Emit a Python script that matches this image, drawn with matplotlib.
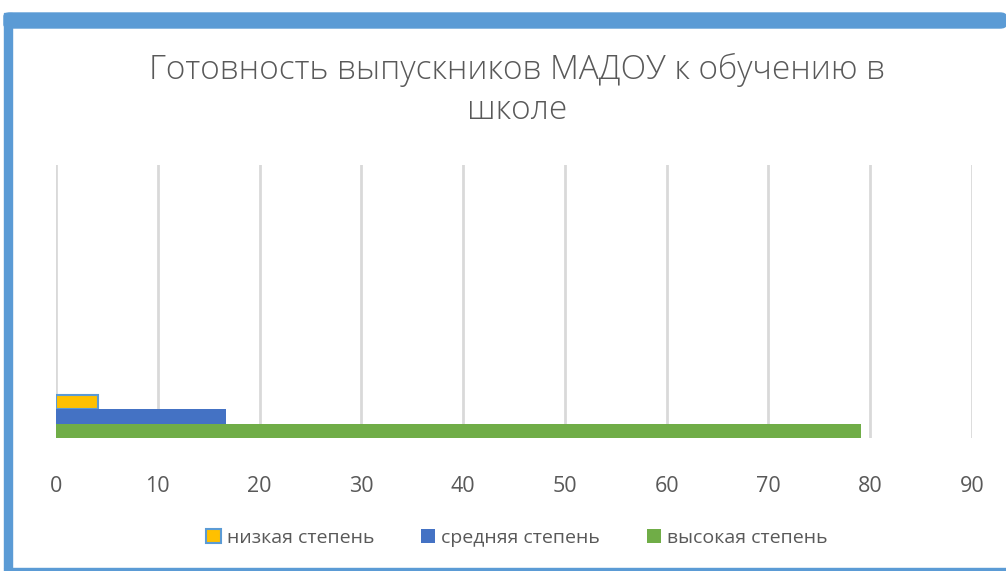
import matplotlib
matplotlib.use("Agg")
import matplotlib.pyplot as plt
from matplotlib.patches import Rectangle, FancyBboxPatch

series = ["низкая степень", "средняя степень", "высокая степень"]
values = [4.1, 16.7, 79.1]
colors = ["#FFC000", "#4472C4", "#70AD47"]
edges = ["#5B9BD5", "#4472C4", "#70AD47"]
positions = [2, 1, 0]
title = "Готовность выпускников МАДОУ к обучению в\nшколе"
xticks = [0, 10, 20, 30, 40, 50, 60, 70, 80, 90]

plt.rcParams['font.family'] = ['Open Sans', 'DejaVu Sans']
W, H = 1006, 571
fig = plt.figure(figsize=(W / 100, H / 100), dpi=100)

# frame
fig.patches.append(Rectangle((4 / W, 1 - 568 / H), 8 / W, (568 - 13) / H,
                             transform=fig.transFigure, color="#5B9BD5", zorder=0))
fig.patches.append(FancyBboxPatch((4 / W, 1 - 28 / H), (W - 4) / W, 15 / H,
                                  boxstyle="round,pad=0,rounding_size=0.006",
                                  transform=fig.transFigure, color="#5B9BD5", zorder=0))
fig.patches.append(Rectangle((4 / W, 0), (W - 4) / W, 3 / H,
                             transform=fig.transFigure, color="#5B9BD5", zorder=0))

ax = fig.add_axes([56 / W, 1 - 438 / H, (972 - 56) / W, (438 - 165) / H])
for v, c, e, p, s in zip(values, colors, edges, positions, series):
    ax.barh(p, v, height=1.0, color=c, edgecolor=e, linewidth=1.5 if e != c else 0,
            label=s, zorder=3)
ax.set_xlim(0, 90)
ax.set_ylim(-0.5, -0.5 + 273 / 14.5)
ax.set_xticks(xticks)
ax.set_yticks([])
ax.grid(axis='x', color="#D9D9D9", linewidth=2)
ax.set_axisbelow(True)
for sp in ax.spines.values():
    sp.set_visible(False)
ax.tick_params(axis='x', length=0, pad=27, labelsize=15.5, labelcolor="#595959")

fig.text(517 / W, 1 - 90 / H, title, ha='center', va='center', fontsize=24,
         color="#595959", fontweight='light', linespacing=1.25)

handles, labels = ax.get_legend_handles_labels()
fig.legend(handles, labels, loc='center', bbox_to_anchor=(517 / W, 1 - 538 / H), ncol=3,
           frameon=False, fontsize=14, labelcolor="#595959", handlelength=0.75,
           handleheight=0.75, columnspacing=2.4, handletextpad=0.3)

fig.savefig("out.png", dpi=100)
